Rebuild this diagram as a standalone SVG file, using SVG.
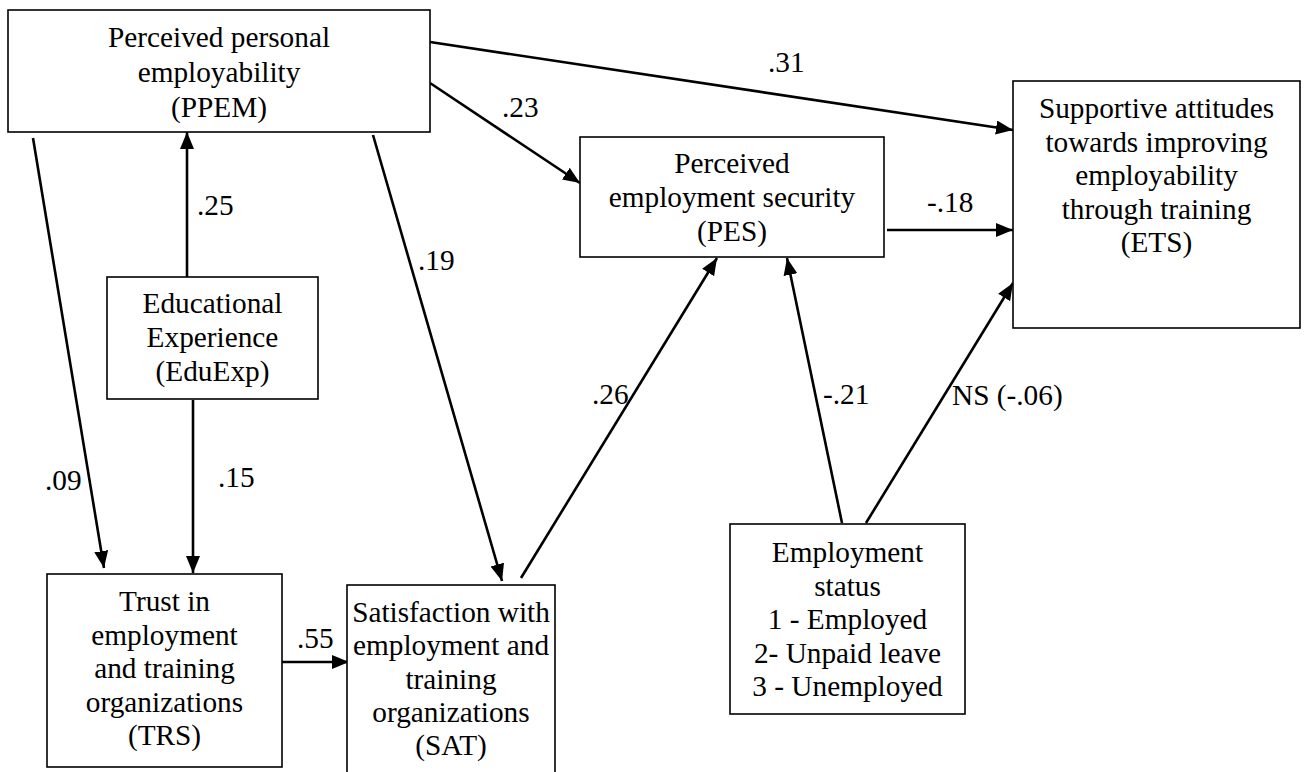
<svg xmlns="http://www.w3.org/2000/svg" width="1304" height="772" viewBox="0 0 1304 772">
<style>
.box{fill:#fff;stroke:#000;stroke-width:1.6}
text{font-family:"Liberation Serif","Times New Roman",serif;font-size:29.3px;fill:#000}
.t{text-anchor:middle}
.c{stroke:#000;stroke-width:2.6;fill:none;marker-end:url(#ah)}
</style>
<defs>
<marker id="ah" markerUnits="userSpaceOnUse" markerWidth="20" markerHeight="16" refX="17" refY="7" orient="auto">
<path d="M0,0 L17,7 L0,14 z" fill="#000"/>
</marker>
</defs>
<rect width="1304" height="772" fill="#fff"/>
<g id="connectors">
<line class="c" x1="430" y1="42" x2="1013" y2="130"/>
<line class="c" x1="430" y1="83" x2="580" y2="183"/>
<line class="c" x1="887" y1="230" x2="1013" y2="230"/>
<line class="c" x1="187" y1="277" x2="187" y2="132"/>
<line class="c" x1="33" y1="138" x2="104" y2="568"/>
<line class="c" x1="193" y1="400" x2="193" y2="573"/>
<line class="c" x1="373" y1="135" x2="502" y2="581"/>
<line class="c" x1="521" y1="578" x2="717" y2="258"/>
<line class="c" x1="842" y1="523" x2="787" y2="258"/>
<line class="c" x1="866" y1="523" x2="1013" y2="283"/>
<line class="c" x1="282" y1="662" x2="349" y2="662"/>
</g>
<g id="labels">
<text x="768" y="72">.31</text>
<text x="502" y="117">.23</text>
<text x="927" y="212">-.18</text>
<text x="197" y="215">.25</text>
<text x="418" y="270">.19</text>
<text x="592" y="404">.26</text>
<text x="823" y="404">-.21</text>
<text x="952" y="405">NS (-.06)</text>
<text x="45" y="490">.09</text>
<text x="218" y="487">.15</text>
<text x="297" y="648">.55</text>
</g>
<g id="PPEM">
<rect class="box" x="8" y="10" width="422" height="122"/>
<text class="t" x="219" y="47">Perceived personal</text>
<text class="t" x="219" y="82">employability</text>
<text class="t" x="219" y="117">(PPEM)</text>
</g>
<g id="PES">
<rect class="box" x="580" y="137" width="304" height="120"/>
<text class="t" x="732" y="173">Perceived</text>
<text class="t" x="732" y="207">employment security</text>
<text class="t" x="732" y="241">(PES)</text>
</g>
<g id="ETS">
<rect class="box" x="1013" y="81" width="287" height="247"/>
<text class="t" x="1156.5" y="118">Supportive attitudes</text>
<text class="t" x="1156.5" y="151.5">towards improving</text>
<text class="t" x="1156.5" y="185">employability</text>
<text class="t" x="1156.5" y="218.5">through training</text>
<text class="t" x="1156.5" y="252">(ETS)</text>
</g>
<g id="EduExp">
<rect class="box" x="107" y="277" width="211" height="122"/>
<text class="t" x="212.5" y="313">Educational</text>
<text class="t" x="212.5" y="347">Experience</text>
<text class="t" x="212.5" y="381">(EduExp)</text>
</g>
<g id="TRS">
<rect class="box" x="47" y="574" width="235" height="193"/>
<text class="t" x="164.5" y="611">Trust in</text>
<text class="t" x="164.5" y="644.5">employment</text>
<text class="t" x="164.5" y="678">and training</text>
<text class="t" x="164.5" y="711.5">organizations</text>
<text class="t" x="164.5" y="745">(TRS)</text>
</g>
<g id="SAT">
<rect class="box" x="347" y="585" width="208" height="210"/>
<text class="t" x="451" y="622">Satisfaction with</text>
<text class="t" x="451" y="655.3">employment and</text>
<text class="t" x="451" y="688.6">training</text>
<text class="t" x="451" y="722">organizations</text>
<text class="t" x="451" y="755.3">(SAT)</text>
</g>
<g id="EmpStatus">
<rect class="box" x="730" y="524" width="235" height="190"/>
<text class="t" x="847.5" y="562">Employment</text>
<text class="t" x="847.5" y="595.5">status</text>
<text class="t" x="847.5" y="629">1 - Employed</text>
<text class="t" x="847.5" y="662.5">2- Unpaid leave</text>
<text class="t" x="847.5" y="696">3 - Unemployed</text>
</g>
</svg>
